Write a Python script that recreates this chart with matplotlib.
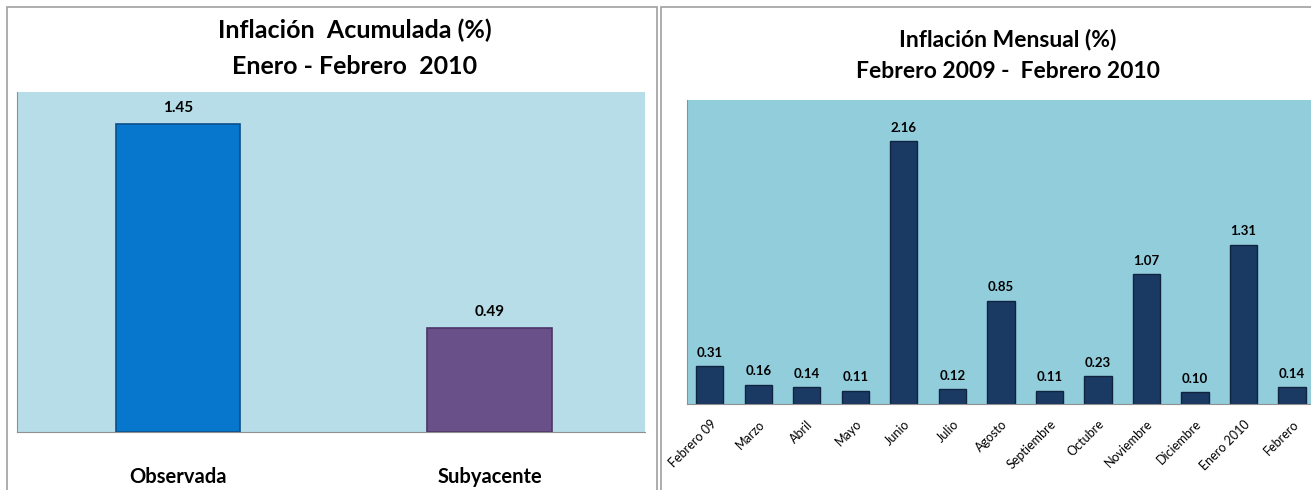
import numpy as np
import matplotlib
matplotlib.use("Agg")
from matplotlib import pyplot as plt
from matplotlib.patches import Rectangle

# datos
acum_cats = ["Observada", "Subyacente"]
acum_vals = [1.45, 0.49]

meses = ["Febrero 09", "Marzo", "Abril", "Mayo", "Junio", "Julio", "Agosto",
         "Septiembre", "Octubre", "Noviembre", "Diciembre", "Enero 2010", "Febrero"]
mensual_vals = [0.31, 0.16, 0.14, 0.11, 2.16, 0.12, 0.85, 0.11, 0.23, 1.07, 0.10, 1.31, 0.14]

plt.rcParams['font.family'] = ['Lato', 'DejaVu Sans']

W, H = 1311, 490
fig = plt.figure(figsize=(W / 100, H / 100), dpi=100)

# marcos de los paneles
fig.patches.append(Rectangle((7 / W, -0.1), 650 / W, 1.1 - 7 / H, transform=fig.transFigure,
                             fill=False, edgecolor="#A0A0A0", lw=1.2))
fig.patches.append(Rectangle((661 / W, -0.1), 0.6, 1.1 - 7 / H, transform=fig.transFigure,
                             fill=False, edgecolor="#A0A0A0", lw=1.2))

# panel izquierdo
ax1 = fig.add_axes([17 / W, 1 - 432 / H, 628 / W, 340 / H])
ax1.set_facecolor("#B7DDE8")
x1 = np.arange(len(acum_cats))
ax1.bar(x1, acum_vals, width=0.4, color=["#0777CE", "#6A5088"],
        edgecolor=["#0A4F8A", "#4A3666"], linewidth=1.2)
for xi, v in zip(x1, acum_vals):
    ax1.text(xi, v + 0.04, f"{v:.2f}", ha="center", va="bottom", fontsize=11, fontweight="bold")
ax1.set_xlim(-0.517, 1.499)
ax1.set_ylim(0, 1.6)
ax1.set_yticks([])
ax1.set_xticks(x1)
ax1.set_xticklabels(acum_cats, fontsize=14.5, fontweight="bold")
ax1.tick_params(axis="x", length=0, pad=25)
for s in ["top", "right"]:
    ax1.spines[s].set_visible(False)
ax1.spines["bottom"].set_color("#909090")
ax1.spines["left"].set_color("#909090")
fig.text(355 / W, 1 - 30 / H, "Inflación  Acumulada (%)", ha="center", va="center",
         fontsize=18, fontweight="bold")
fig.text(355 / W, 1 - 67 / H, "Enero - Febrero  2010", ha="center", va="center",
         fontsize=18, fontweight="bold")

# panel derecho
ax2 = fig.add_axes([687 / W, 1 - 404 / H, 624 / W, 304 / H])
ax2.set_facecolor("#92CDDC")
x2 = np.arange(len(meses))
ax2.bar(x2, mensual_vals, width=0.56, color="#1B3A63", edgecolor="#10243F", linewidth=1)
for xi, v in zip(x2, mensual_vals):
    ax2.text(xi, v + 0.06, f"{v:.2f}", ha="center", va="bottom", fontsize=9.5, fontweight="bold")
ax2.set_xlim(-0.47, 12.39)
ax2.set_ylim(0, 2.5)
ax2.set_yticks([])
ax2.set_xticks(x2)
ax2.set_xticklabels(meses, fontsize=9, rotation=45, ha="right", rotation_mode="anchor")
ax2.tick_params(axis="x", length=0, pad=10)
for s in ["top", "right"]:
    ax2.spines[s].set_visible(False)
ax2.spines["bottom"].set_color("#909090")
ax2.spines["left"].set_color("#909090")
fig.text(1008 / W, 1 - 40 / H, "Inflación Mensual (%)", ha="center", va="center",
         fontsize=16.5, fontweight="bold")
fig.text(1008 / W, 1 - 71 / H, "Febrero 2009 -  Febrero 2010", ha="center", va="center",
         fontsize=16.5, fontweight="bold")

fig.savefig("out.png", dpi=100)
